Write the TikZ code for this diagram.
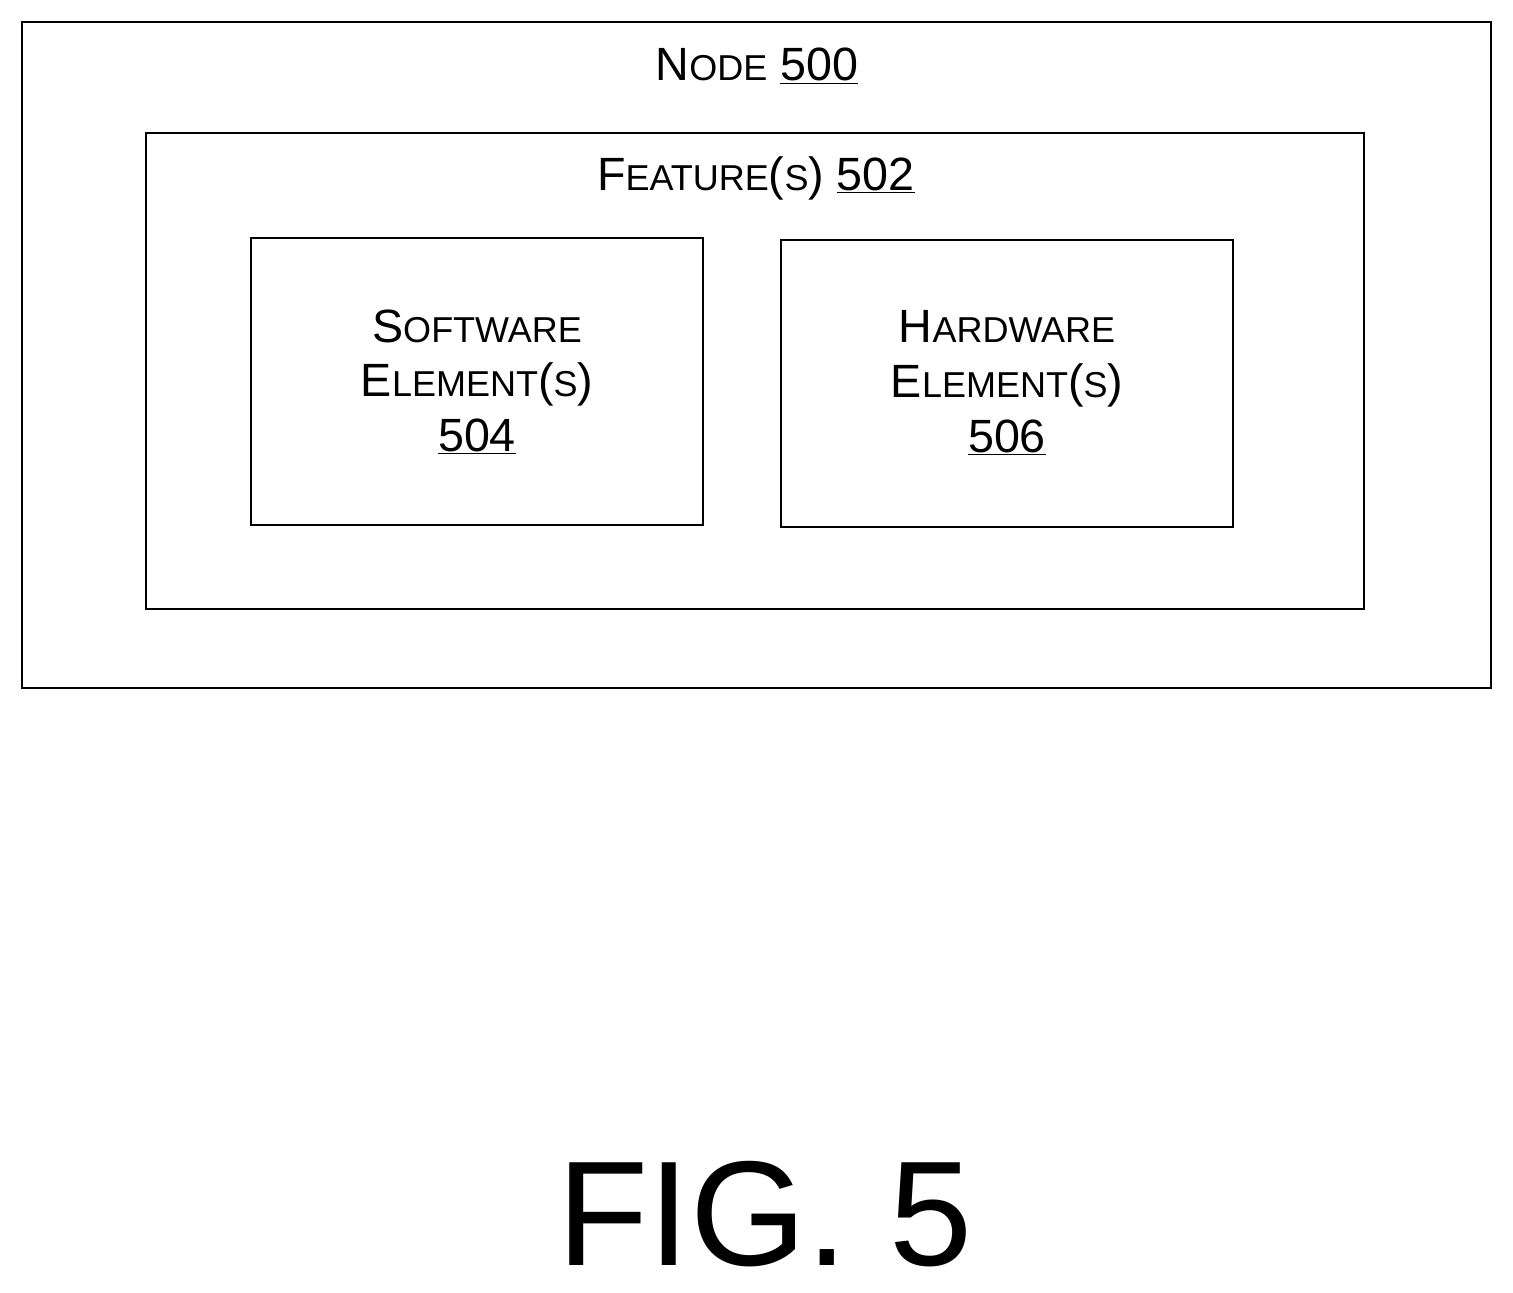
\documentclass[tikz,border=0pt]{standalone}
\usepackage{fontspec}
\setmainfont{Liberation Sans}
\newcommand{\bigL}{\fontsize{35}{42}\selectfont}
\newcommand{\smL}{\fontsize{27}{42}\selectfont}
\newcommand{\fsc}[2]{{\bigL #1}{\smL #2}}
\begin{document}
\begin{tikzpicture}[x=0.75pt,y=-0.75pt,
  box/.style={draw,line width=2.2pt},
  lbl/.style={align=center,font=\bigL}]
\useasboundingbox (0,0) rectangle (1513,1292);
\draw[box] (22,22) rectangle (1491,688);
\draw[box] (146,133) rectangle (1364,609);
\draw[box] (251,238) rectangle (703,525);
\draw[box] (781,240) rectangle (1233,527);
\node[lbl] (n500) at (757,66) {\fsc{N}{ODE} \underline{500}};
\node[lbl] (n502) at (756,178) {\fsc{F}{EATURE}({\smL S}) \underline{502}};
\node[lbl] (n504) at (477,382) {\fsc{S}{OFTWARE}\\[-1pt]\fsc{E}{LEMENT}({\smL S})\\[-1pt]\underline{504}};
\node[lbl] (n506) at (1007,383) {\fsc{H}{ARDWARE}\\[-1pt]\fsc{E}{LEMENT}({\smL S})\\[-1pt]\underline{506}};
\node[font=\fontsize{112}{130}\selectfont,inner sep=0pt] (fig) at (765,1214) {FIG. 5};
\end{tikzpicture}
\end{document}
